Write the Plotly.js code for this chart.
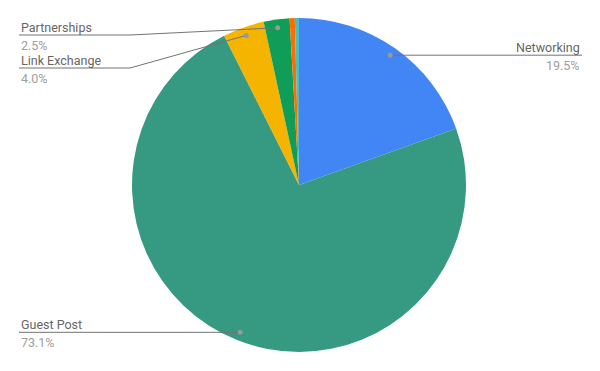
<!DOCTYPE html>
<html>
<head>
<meta charset="utf-8">
<script src="https://cdn.plot.ly/plotly-3.0.1.min.js"></script>
<style>html,body{margin:0;padding:0;background:#fff;}#chart{width:600px;height:371px;}</style>
</head>
<body>
<div id="chart"></div>
<script>
const labels = ['Networking', 'Guest Post', 'Link Exchange', 'Partnerships', 'Other', 'Forums'];
const values = [19.5, 73.1, 4.0, 2.5, 0.5, 0.4];
const colors = ['#4285F4', '#359A81', '#F4B400', '#0F9D58', '#FF6D00', '#46BDC6'];
const shownLabels = ['Networking', 'Guest Post', 'Link Exchange', 'Partnerships'];

const W = 600, H = 371;
const cx = 299, cy = 185, R = 167;
// label placement (layout only)
const place = {
  'Networking':    {side: 'right', textX: 582, lineY: null, elbowX: null},
  'Guest Post':    {side: 'left',  textX: 19,  lineY: null, elbowX: null},
  'Link Exchange': {side: 'left',  textX: 19,  lineY: 68,   elbowX: 130},
  'Partnerships':  {side: 'left',  textX: 19,  lineY: 35,   elbowX: 130}
};

const total = values.reduce((a, b) => a + b, 0);
const px = x => x / W, py = y => 1 - y / H;

const shapes = [], annotations = [];
let cum = 0;
values.forEach((v, i) => {
  const mid = (cum + v / 2) / total * 2 * Math.PI;
  cum += v;
  const name = labels[i];
  if (!shownLabels.includes(name)) return;
  const d = R * 0.95;
  const dx = cx + d * Math.sin(mid), dy = cy - d * Math.cos(mid);
  const p = place[name];
  const lineY = p.lineY === null ? dy : p.lineY;
  let path;
  if (p.side === 'right') {
    path = `M ${px(dx)} ${py(dy)} L ${px(p.textX)} ${py(lineY)}`;
  } else if (p.elbowX !== null) {
    path = `M ${px(p.textX)} ${py(lineY)} L ${px(p.elbowX)} ${py(lineY)} L ${px(dx)} ${py(dy)}`;
  } else {
    path = `M ${px(p.textX)} ${py(lineY)} L ${px(dx)} ${py(dy)}`;
  }
  shapes.push({type: 'path', xref: 'paper', yref: 'paper', path: path, line: {color: '#737373', width: 1}});
  const r = 2.5;
  shapes.push({type: 'circle', xref: 'paper', yref: 'paper',
    x0: px(dx - r), x1: px(dx + r), y0: py(dy + r), y1: py(dy - r),
    fillcolor: '#999999', line: {width: 0}});
  const anchor = p.side === 'right' ? 'right' : 'left';
  annotations.push({xref: 'paper', yref: 'paper', x: px(p.textX), y: py(lineY + 1.5),
    xanchor: anchor, yanchor: 'bottom', showarrow: false, text: name,
    font: {family: 'Roboto', size: 12.5, color: '#666666'}});
  annotations.push({xref: 'paper', yref: 'paper', x: px(p.textX), y: py(lineY + 1),
    xanchor: anchor, yanchor: 'top', showarrow: false,
    text: (v / total * 100).toFixed(1) + '%',
    font: {family: 'Roboto', size: 12.5, color: '#9E9E9E'}});
});

const trace = {
  type: 'pie', labels: labels, values: values, sort: false, direction: 'clockwise', rotation: 0,
  marker: {colors: colors, line: {width: 0}},
  textinfo: 'none', hoverinfo: 'label+percent', showlegend: false,
  domain: {x: [px(cx - R), px(cx + R)], y: [py(cy + R), py(cy - R)]}
};

Plotly.newPlot('chart', [trace], {
  width: W, height: H, margin: {l: 0, r: 0, t: 0, b: 0},
  paper_bgcolor: '#ffffff', showlegend: false,
  shapes: shapes, annotations: annotations
}, {displayModeBar: false, staticPlot: true});
</script>
</body>
</html>
